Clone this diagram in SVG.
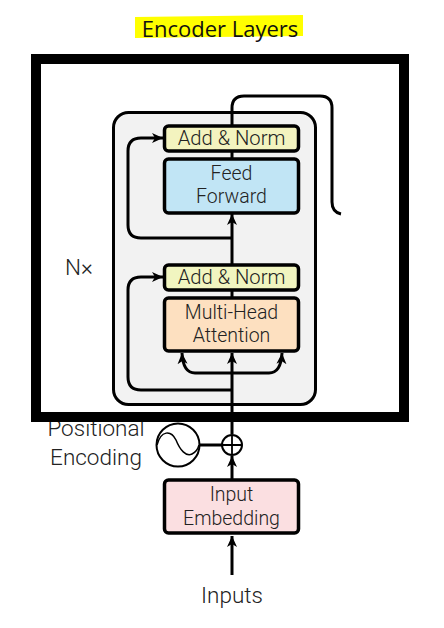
<svg xmlns="http://www.w3.org/2000/svg" width="444" height="628" viewBox="0 0 444 628">
<style>
.t{font-family:"Roboto","Liberation Sans",sans-serif;font-weight:300;font-size:19.500px;fill:#222;text-anchor:middle}
.l{font-size:22.500px}
.n{font-size:20.200px}
.b{stroke:#000;stroke-width:3.5}
.w{fill:none;stroke:#000;stroke-width:3}
</style>
<defs>
<marker id="a" markerUnits="userSpaceOnUse" markerWidth="12" markerHeight="12" refX="11" refY="6" orient="auto"><path d="M0 1L11 6L0 11L3 6Z" fill="#000"/></marker>
</defs>
<rect width="444" height="628" fill="#fff"/>
<g id="title">
<path d="M135 17L303 15L303 36L135 38Z" fill="#ffff00"/>
<text x="220" y="37" font-family="'Open Sans','Noto Sans',sans-serif" font-size="22" fill="#111" text-anchor="middle">Encoder Layers</text>
</g>
<g id="encoder-panel"><rect x="113.500" y="112.500" width="202" height="292" rx="15" fill="#f2f2f2" stroke="#000" stroke-width="3"/></g>
<g id="connectors">
<path class="w" d="M232 125V108Q232 96 244 96H320Q332 96 332 108V202Q332 212 341 214"/>
<path class="w" d="M232 238H141Q128 238 128 225V151Q128 138 141 138H163" marker-end="url(#a)"/>
<path class="w" d="M232 390H141Q128 390 128 377V290Q128 277 141 277H163" marker-end="url(#a)"/>
<path class="w" d="M232 158V151"/>
<path class="w" d="M232 297V290"/>
<path class="w" d="M232 264V214" marker-end="url(#a)"/>
<path class="w" d="M232 434V353" marker-end="url(#a)"/>
<path class="w" d="M232 373H195Q183 373 182 353" marker-end="url(#a)"/>
<path class="w" d="M232 373H269Q281 373 282 353" marker-end="url(#a)"/>
<path class="w" d="M200 445H222"/>
<path class="w" d="M232 479V456" marker-end="url(#a)"/>
<path class="w" d="M232 575V536" marker-end="url(#a)"/>
</g>
<g id="add-norm-2"><rect class="b" x="164.500" y="126" width="134" height="25" rx="4" fill="#f3f3bf"/><text class="t n" x="231.500" y="145">Add &amp; Norm</text></g>
<g id="feed-forward"><rect class="b" x="164.500" y="159" width="134" height="54" rx="4" fill="#c1e5f5"/><text class="t" x="231.500" y="179.500">Feed</text><text class="t" x="231.500" y="202.500">Forward</text></g>
<g id="add-norm-1"><rect class="b" x="164.500" y="265" width="134" height="25" rx="4" fill="#f1f5c0"/><text class="t n" x="231.500" y="284">Add &amp; Norm</text></g>
<g id="multi-head"><rect class="b" x="164.500" y="298" width="134" height="53" rx="4" fill="#fde0c0"/><text class="t" x="231.500" y="318.500">Multi-Head</text><text class="t" x="231.500" y="341.500">Attention</text></g>
<g id="input-embedding"><rect class="b" x="164.500" y="480" width="134" height="53" rx="4" fill="#fbdfe1"/><text class="t" x="231.500" y="500.500">Input</text><text class="t" x="231.500" y="524.500">Embedding</text></g>
<g id="nx"><text class="t l" x="79" y="275">N×</text></g>
<g id="positional-encoding">
<text class="t l" x="96" y="436">Positional</text><text class="t l" x="96" y="465">Encoding</text>
<circle cx="178" cy="445" r="21.500" fill="#fff" stroke="#000" stroke-width="2"/>
<path d="M157 445C161 430 171 430 176 440C180 450 186 457 192 454C196 452 198 449 199 445" fill="none" stroke="#000" stroke-width="1.500"/>
</g>
<g id="add"><circle cx="232" cy="445" r="10" fill="#fff" stroke="#000" stroke-width="2"/><path d="M222 445H242M232 435V455" stroke="#000" stroke-width="1.800"/></g>
<g id="inputs"><text class="t l" x="232" y="603">Inputs</text></g>
<g id="frame"><rect x="36" y="59" width="368" height="358" fill="none" stroke="#000" stroke-width="10"/></g>
</svg>
